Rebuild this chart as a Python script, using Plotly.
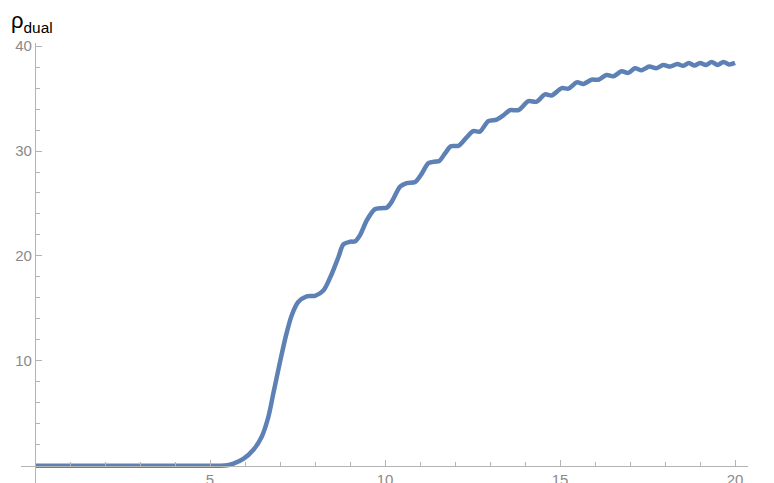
import plotly.graph_objects as go

# Data
energy = [0, 1, 2, 3, 4, 5, 5.3, 5.5, 5.67, 5.95, 6.24, 6.48, 6.67, 6.81, 7.0, 7.17,
          7.33, 7.52, 7.76, 8.0, 8.24, 8.48, 8.67, 8.81, 9.0, 9.15, 9.29, 9.48, 9.71,
          9.9, 10.05, 10.19, 10.43, 10.62, 10.86, 11.05, 11.24, 11.45, 11.55, 11.72,
          11.88, 12.1, 12.33, 12.52, 12.71, 12.95, 13.19, 13.38, 13.57, 13.81, 14.1,
          14.33, 14.57, 14.76, 15.05, 15.24, 15.48, 15.67, 15.9, 16.1, 16.33, 16.52,
          16.76, 16.95, 17.14, 17.33, 17.55, 17.75, 17.95, 18.15, 18.35, 18.52, 18.68,
          18.84, 19.0, 19.17, 19.33, 19.5, 19.67, 19.83, 20.0]
rho_dual = [0, 0, 0, 0, 0, 0, 0, 0.05, 0.19, 0.64, 1.52, 2.79, 4.69, 6.9, 9.9, 12.4,
            14.3, 15.6, 16.15, 16.2, 16.7, 18.3, 19.9, 21.1, 21.35, 21.4, 22.0, 23.4, 24.45,
            24.55, 24.6, 25.15, 26.6, 26.95, 27.05, 27.85, 28.85, 29.0, 29.05, 29.8,
            30.45, 30.5, 31.3, 31.9, 31.85, 32.85, 33.0, 33.4, 33.9, 33.9, 34.75,
            34.7, 35.4, 35.3, 36.0, 35.95, 36.55, 36.4, 36.8, 36.8, 37.25, 37.12,
            37.6, 37.45, 37.9, 37.7, 38.05, 37.9, 38.2, 38.05, 38.3, 38.12, 38.4,
            38.15, 38.4, 38.2, 38.5, 38.2, 38.5, 38.25, 38.4]

x_major = [5, 10, 15, 20]
x_minor = [i for i in range(0, 21) if i % 5 != 0]
y_major = [10, 20, 30, 40]
y_minor = [i for i in range(0, 41, 2) if i % 10 != 0]

x_range = [-0.4, 20.37]
y_range = [-1.65, 40.3]

axis_color = "#b3b3b3"
tick_font = dict(family="Liberation Sans, Arial", size=15, color="#8a8a8a")

fig = go.Figure()
fig.add_trace(go.Scatter(
    x=energy, y=rho_dual, mode="lines",
    line=dict(color="#5E81B5", width=4.5, shape="spline", smoothing=0.8),
    hoverinfo="skip", showlegend=False,
))

fig.update_layout(
    width=774, height=483,
    margin=dict(l=13, r=34, t=35, b=8, autoexpand=False),
    paper_bgcolor="white", plot_bgcolor="white",
    xaxis=dict(
        range=x_range, showgrid=False, zeroline=False, automargin=False,
        showline=True, linecolor=axis_color, linewidth=1.2,
        anchor="free", position=(0 - y_range[0]) / (y_range[1] - y_range[0]),
        tickvals=x_major, ticktext=[str(v) for v in x_major],
        ticks="inside", ticklen=6, tickcolor=axis_color, tickwidth=1,
        tickfont=tick_font,
        minor=dict(tickvals=x_minor, ticks="inside", ticklen=4,
                   tickcolor=axis_color, tickwidth=1, showgrid=False),
    ),
    yaxis=dict(
        range=y_range, showgrid=False, zeroline=False, automargin=False,
        showline=True, linecolor=axis_color, linewidth=1.2,
        anchor="free", position=(0 - x_range[0]) / (x_range[1] - x_range[0]),
        tickvals=y_major, ticktext=[str(v) for v in y_major],
        ticks="inside", ticklen=6, tickcolor=axis_color, tickwidth=1,
        tickfont=tick_font,
        minor=dict(tickvals=y_minor, ticks="inside", ticklen=4,
                   tickcolor=axis_color, tickwidth=1, showgrid=False),
    ),
    annotations=[
        dict(text="ρ<sub>dual</sub>", xref="paper", yref="paper",
             x=-0.016, y=1.048, xanchor="left", yanchor="middle",
             showarrow=False,
             font=dict(family="Liberation Sans, Arial", size=22, color="black")),
        dict(text="E", xref="paper", yref="y",
             x=1.02, y=0, xanchor="left", yanchor="middle",
             showarrow=False,
             font=dict(family="Liberation Sans, Arial", size=22, color="black")),
    ],
)

fig.write_html("out.html")
